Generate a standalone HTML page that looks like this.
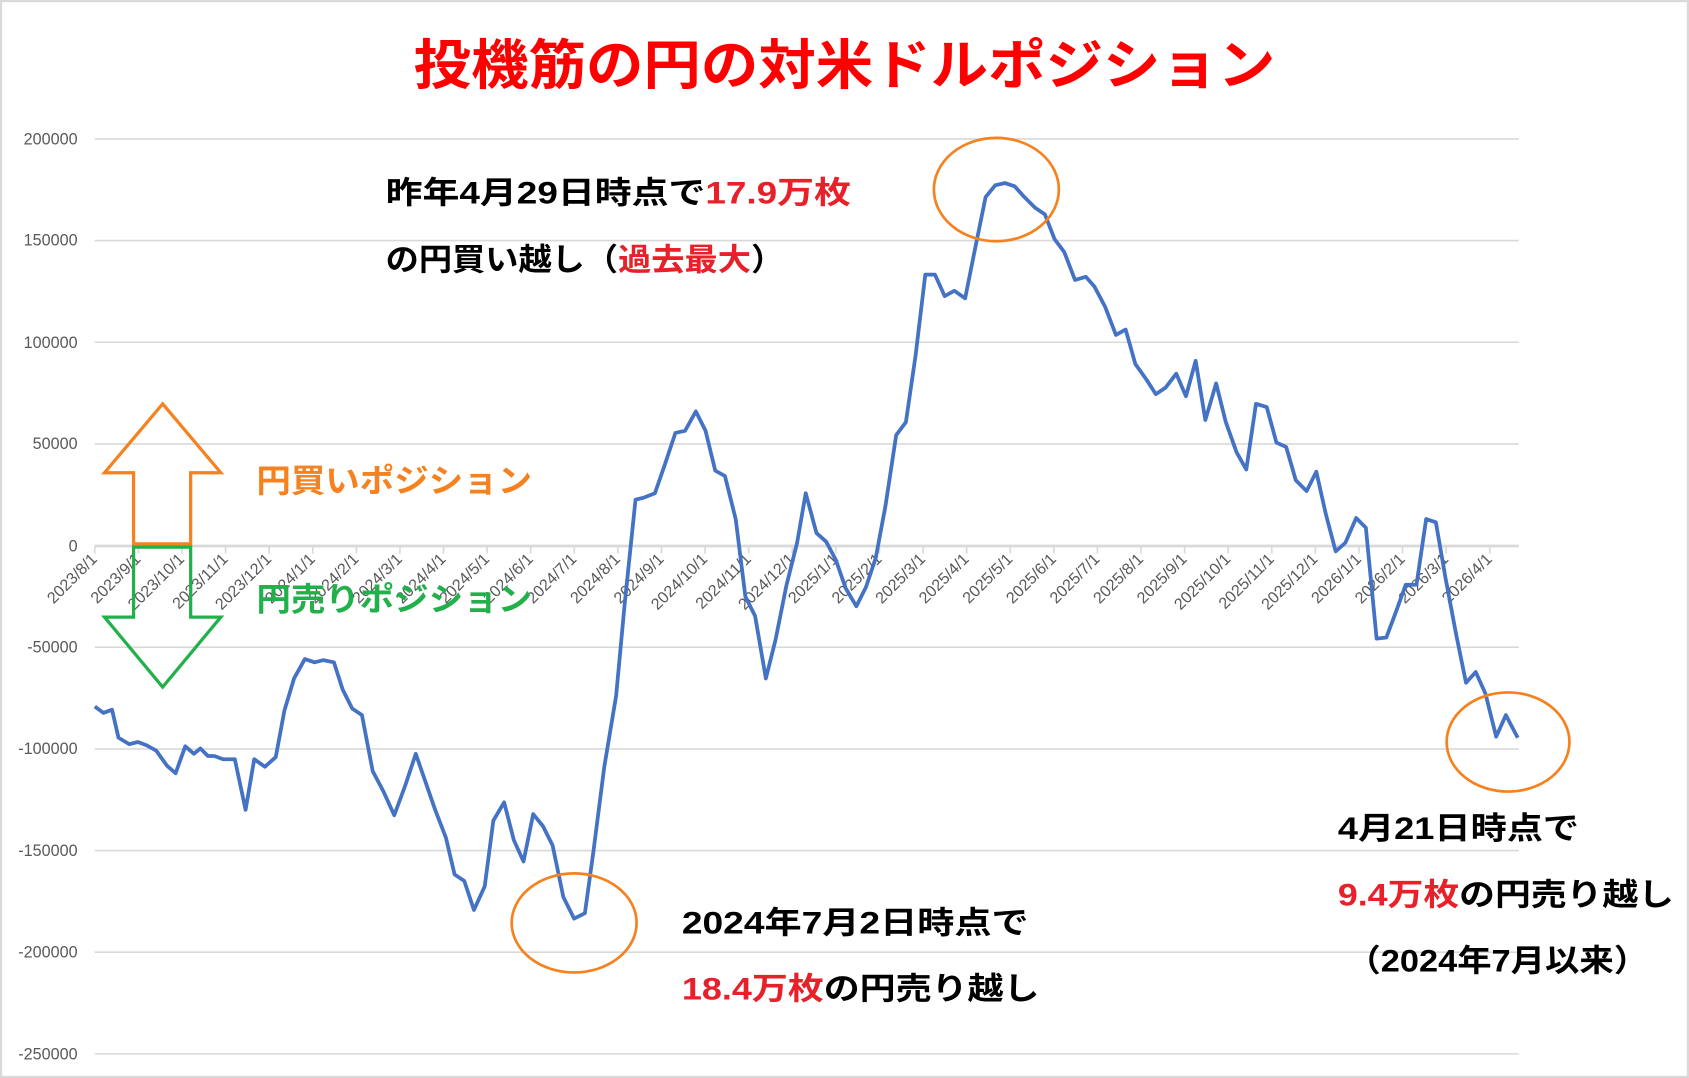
<!DOCTYPE html>
<html><head><meta charset="utf-8"><style>
html,body{margin:0;padding:0;background:#fff;}
svg{display:block;}
text{font-family:"Liberation Sans","Noto Sans CJK JP",sans-serif;}
.yl{font-size:15px;fill:#595959;text-anchor:end;}
.xl{font-size:15px;fill:#595959;text-anchor:end;}
.an{font-size:29px;font-weight:bold;fill:#000;}
.r{fill:#e8202a;}
</style></head><body>
<svg width="1689" height="1078" viewBox="0 0 1568 1001" preserveAspectRatio="none">
<rect x="1" y="1" width="1566" height="999" fill="#fff" stroke="#d9d9d9" stroke-width="2"/>
<text x="784" y="78" text-anchor="middle" font-size="50" font-weight="bold" fill="#ff0000" textLength="800" lengthAdjust="spacingAndGlyphs">投機筋の円の対米ドルポジション</text>
<g stroke="#d9d9d9" stroke-width="1.5">
<line x1="88" y1="129" x2="1410" y2="129"/><line x1="88" y1="223.4" x2="1410" y2="223.4"/>
<line x1="88" y1="317.8" x2="1410" y2="317.8"/><line x1="88" y1="412.2" x2="1410" y2="412.2"/>
<line x1="88" y1="601" x2="1410" y2="601"/><line x1="88" y1="695.4" x2="1410" y2="695.4"/>
<line x1="88" y1="789.8" x2="1410" y2="789.8"/><line x1="88" y1="884.2" x2="1410" y2="884.2"/>
<line x1="88" y1="978.6" x2="1410" y2="978.6"/>
<line x1="88" y1="507" x2="1410" y2="507" stroke-width="2.5"/>
</g>
<g class="yl">
<text x="72" y="134">200000</text><text x="72" y="228">150000</text><text x="72" y="323">100000</text>
<text x="72" y="417">50000</text><text x="72" y="512">0</text><text x="72" y="606">-50000</text>
<text x="72" y="700">-100000</text><text x="72" y="795">-150000</text><text x="72" y="889">-200000</text>
<text x="72" y="984">-250000</text>
</g>
<g id="ticks" stroke="#d9d9d9" stroke-width="1.5"></g>
<g id="xlabels" class="xl"></g>
<polyline fill="none" stroke="#4472c4" stroke-width="3.5" stroke-linejoin="round" points="88,656 96,662 104,659 110,685 120,691 128,689 136,692 145,697 155,711 163,718 172,693 180,700 186,695 193,702 199,702 207,705 218,705 228,752 236,705 246,712 256,703 264,660 273,630 283,612 292,615 300,613 310,615 318,640 327,658 336,664 346,716 356,735 366,757 376,730 386,700 395,726 404,752 414,778 422,812 431,818 440,845 450,823 458,762 468,745 477,780 486,800 495,756 504,767 513,785 523,833 533,853 543,848 551,790 561,712 572,646 580,560 590,464 598,462 608,458 617,432 627,402 636,400 646,382 655,400 664,437 673,442 683,482 692,554 701,572 711,630 720,594 730,544 740,504 748,458 758,495 767,503 776,520 785,546 795,563 804,545 813,518 822,470 832,404 841,392 850,330 859,255 868,255 877,275 886,270 896,277 905,232 915,183 924,172 933,170 942,173 951,183 961,193 970,199 979,222 988,234 998,260 1008,257 1016,266 1026,285 1036,311 1045,306 1054,338 1064,352 1073,366 1082,360 1092,347 1101,368 1110,335 1119,390 1129,356 1138,392 1148,420 1157,436 1166,375 1176,378 1185,411 1194,415 1203,446 1213,456 1222,438 1231,478 1240,512 1249,504 1259,481 1268,490 1278,593 1287,592 1296,568 1305,543 1315,543 1324,482 1333,485 1342,537 1352,590 1361,634 1370,624 1379,644 1389,684 1398,664 1409,685"/>
<g fill="none" stroke="#f5821f" stroke-width="2.5">
<ellipse cx="925" cy="176" rx="58" ry="48"/>
<ellipse cx="533" cy="857" rx="58" ry="46"/>
<ellipse cx="1400" cy="689" rx="57" ry="46"/>
</g>
<polygon points="151,375 205,439 177,439 177,505 124,505 124,439 97,439" fill="none" stroke="#f5821f" stroke-width="3"/>
<polygon points="124,508 177,508 177,573 205,573 151,638 97,573 124,573" fill="none" stroke="#22b04b" stroke-width="3"/>
<text x="238" y="457" font-size="30" font-weight="bold" fill="#f5821f" textLength="256" lengthAdjust="spacingAndGlyphs">円買いポジション</text>
<text x="238" y="567" font-size="30" font-weight="bold" fill="#22b04b" textLength="256" lengthAdjust="spacingAndGlyphs">円売りポジション</text>
<text class="an" x="358" y="189" textLength="432" lengthAdjust="spacingAndGlyphs">昨年4月29日時点で<tspan class="r">17.9万枚</tspan></text>
<text class="an" x="358" y="251" textLength="370" lengthAdjust="spacingAndGlyphs">の円買い越し（<tspan class="r">過去最大</tspan>）</text>
<text class="an" x="633" y="867" textLength="322" lengthAdjust="spacingAndGlyphs">2024年7月2日時点で</text>
<text class="an" x="633" y="928" textLength="332" lengthAdjust="spacingAndGlyphs"><tspan class="r">18.4万枚</tspan>の円売り越し</text>
<text class="an" x="1242" y="779" textLength="224" lengthAdjust="spacingAndGlyphs">4月21日時点で</text>
<text class="an" x="1242" y="841" textLength="312" lengthAdjust="spacingAndGlyphs"><tspan class="r">9.4万枚</tspan>の円売り越し</text>
<text class="an" x="1250" y="902" textLength="280" lengthAdjust="spacingAndGlyphs">（2024年7月以来）</text>
</svg>
<script>
(function(){
var ns="http://www.w3.org/2000/svg",t=document.getElementById("ticks"),l=document.getElementById("xlabels");
var y=2023,m=8;
for(var i=0;i<=32;i++){
 var x=88+i*40.47;
 var ln=document.createElementNS(ns,"line");
 ln.setAttribute("x1",x);ln.setAttribute("x2",x);ln.setAttribute("y1",507);ln.setAttribute("y2",514);t.appendChild(ln);
 var tx=document.createElementNS(ns,"text");
 tx.setAttribute("x",x+3);tx.setAttribute("y",520);
 tx.setAttribute("transform","rotate(-45 "+(x+3)+" 520)");
 tx.textContent=y+"/"+m+"/1";l.appendChild(tx);
 m++;if(m>12){m=1;y++;}
}
})();
</script>
</body></html>
